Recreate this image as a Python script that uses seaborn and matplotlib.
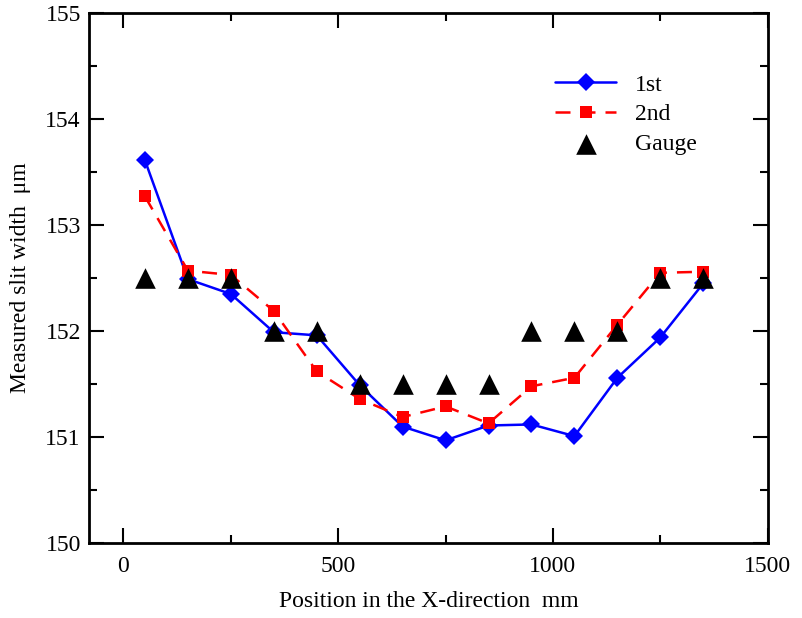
import numpy as np
import pandas as pd
import matplotlib
matplotlib.use('Agg')
import matplotlib.pyplot as plt
import seaborn as sns
from matplotlib.ticker import MultipleLocator

# data
positions = [50, 150, 250, 350, 450, 550, 650, 750, 850, 950, 1050, 1150, 1250, 1350]
first = [153.61, 152.49, 152.35, 151.99, 151.96, 151.49, 151.10, 150.97, 151.11,
         151.12, 151.01, 151.56, 151.94, 152.45]
second = [153.27, 152.57, 152.53, 152.19, 151.62, 151.36, 151.19, 151.29, 151.13,
          151.48, 151.56, 152.06, 152.55, 152.56]
gauge = [152.5, 152.5, 152.5, 152.0, 152.0, 151.5, 151.5, 151.5, 151.5,
         152.0, 152.0, 152.0, 152.5, 152.5]

df = pd.DataFrame({'x': positions, '1st': first, '2nd': second, 'Gauge': gauge})

sns.set_style('ticks')
plt.rcParams['font.family'] = ['Liberation Serif', 'DejaVu Serif']
for k in ['text.color', 'axes.labelcolor', 'xtick.color', 'ytick.color', 'axes.edgecolor']:
    plt.rcParams[k] = 'black'

fig = plt.figure(figsize=(8.03, 6.18), dpi=100)
ax = fig.add_axes([0.111, 0.121, 0.845, 0.858])

sns.lineplot(data=df, x='x', y='1st', ax=ax, color='#0000ff', marker='D',
             markersize=9, markeredgewidth=0, linewidth=1.8, label='1st')
sns.lineplot(data=df, x='x', y='2nd', ax=ax, color='#ff0000', marker='s',
             markersize=8, markeredgewidth=0, linewidth=1.8, label='2nd')
ax.lines[-1].set_dashes([6, 4])
sns.scatterplot(data=df, x='x', y='Gauge', ax=ax, color='black', marker='^',
                s=220, linewidth=0, label='Gauge', zorder=5)

ax.set_xlim(-80, 1500)
ax.set_ylim(150, 155)
ax.xaxis.set_major_locator(MultipleLocator(500))
ax.xaxis.set_minor_locator(MultipleLocator(250))
ax.yaxis.set_major_locator(MultipleLocator(1))
ax.yaxis.set_minor_locator(MultipleLocator(0.5))
ax.tick_params(which='both', direction='in', top=True, right=True, width=1.5,
               labelsize=17)
ax.tick_params(which='major', length=11)
ax.tick_params(axis='x', which='major', pad=9)
ax.tick_params(axis='y', which='major', pad=6)
ax.tick_params(which='minor', length=6)
for sp in ax.spines.values():
    sp.set_linewidth(2)
    sp.set_visible(True)

ax.set_xlabel('Position in the X-direction  mm', fontsize=17, labelpad=10)
ax.set_ylabel('Measured slit width  μm', fontsize=17, labelpad=10)

leg = ax.legend(loc='upper left', bbox_to_anchor=(0.655, 0.925), frameon=False,
                fontsize=17, handlelength=2.6, labelspacing=0.35, handletextpad=0.8)

plt.savefig('out.png', dpi=100)
